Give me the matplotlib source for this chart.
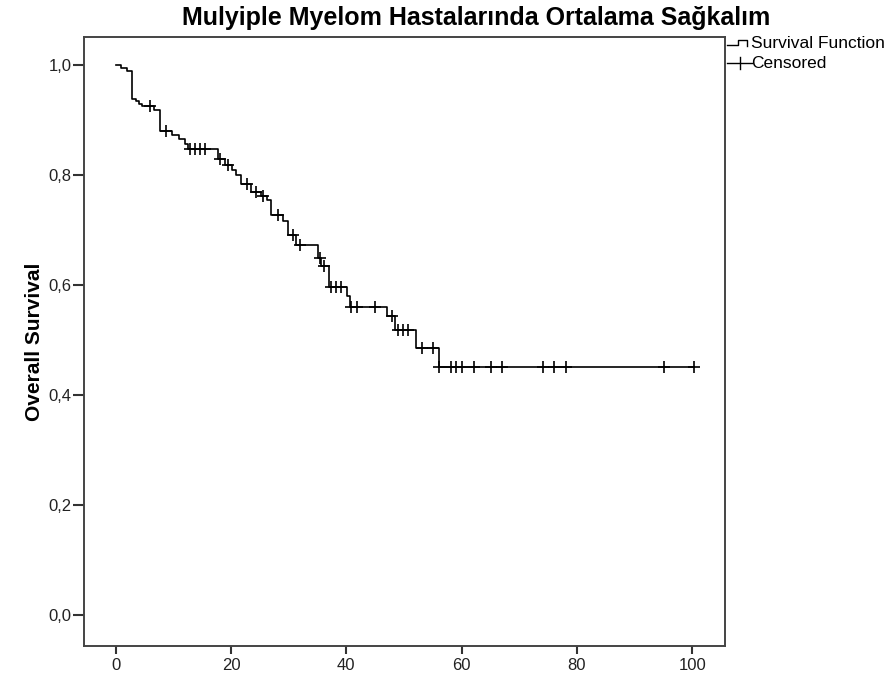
import numpy as np
import matplotlib
matplotlib.use("Agg")
import matplotlib.pyplot as plt
from matplotlib.lines import Line2D

# ---- data ----
event_times = [0.0, 1.0, 1.9, 2.9, 3.6, 4.05, 4.6, 6.65, 7.65, 9.7, 11.0, 12.0, 12.55,
               17.8, 18.9, 20.1, 20.95, 21.8, 23.55, 25.2, 26.2, 27.0, 29.0, 29.9,
               31.25, 35.1, 35.7, 37.0, 40.05, 40.6, 47.0, 48.4, 52.1, 56.1]
survival = [1.0, 0.994, 0.988, 0.937, 0.933, 0.929, 0.925, 0.918, 0.880, 0.871, 0.865,
            0.856, 0.847, 0.829, 0.818, 0.808, 0.799, 0.782, 0.769, 0.761, 0.754,
            0.727, 0.715, 0.690, 0.672, 0.648, 0.633, 0.596, 0.580, 0.560, 0.542,
            0.518, 0.484, 0.451]
censor_times = [5.9, 8.8, 12.85, 13.7, 14.6, 15.45, 18.05, 19.5, 22.7, 24.4, 25.5,
                28.2, 30.7, 31.9, 35.4, 36.1, 37.3, 38.2, 39.0, 40.9, 41.8, 45.0,
                47.85, 49.0, 49.9, 50.7, 53.1, 55.1, 56.1, 58.1, 59.1, 60.1, 62.2,
                65.1, 67.1, 74.2, 76.1, 78.1, 95.2, 100.3]
end_time = 100.3
xticks = [0, 20, 40, 60, 80, 100]
yticks = [0.0, 0.2, 0.4, 0.6, 0.8, 1.0]
title = "Mulyiple Myelom Hastalarında Ortalama Sağkalım"
ylabel = "Overall Survival"

plt.rcParams['font.family'] = ['Liberation Sans', 'DejaVu Sans']

W, H = 892, 679
fig = plt.figure(figsize=(W / 100, H / 100), dpi=100)
ax = fig.add_axes([84 / W, 1 - 646 / H, (725 - 84) / W, (646 - 37) / H])

# step curve
xs = list(event_times) + [end_time]
ys = list(survival) + [survival[-1]]
ax.step(xs, ys, where='post', color='black', lw=1.2)

# censor marks at the survival level
et = np.array(event_times)
sv = np.array(survival)
ct = np.array(censor_times)
idx = np.searchsorted(et, ct, side='right') - 1
ax.plot(ct, sv[idx], linestyle='none', marker='+', color='black',
        markersize=9, markeredgewidth=1.2)

ax.set_xlim(-5.5, 105.7)
ax.set_ylim(-0.057, 1.05)
ax.set_xticks(xticks)
ax.set_xticklabels([str(v) for v in xticks])
ax.set_yticks(yticks)
ax.set_yticklabels([f"{v:.1f}".replace('.', ',') for v in yticks])
ax.tick_params(axis='x', direction='out', length=6, width=1.5, colors='#333333',
               labelsize=12, labelcolor='#222222', pad=3)
ax.tick_params(axis='y', direction='out', length=8, width=1.5, colors='#333333',
               labelsize=12, labelcolor='#222222', pad=1)
for s in ax.spines.values():
    s.set_linewidth(1.4)
    s.set_color('#444444')

ax.set_ylabel(ylabel, fontsize=15, fontweight='bold')
ax.yaxis.set_label_coords(-0.062, 0.5)

fig.text(476 / W, 1 - 18 / H, title, ha='center', va='center',
         fontsize=18, fontweight='bold')

# legend (drawn manually in pixel coords)
def px(x, y):
    return x / W, 1 - y / H

lx = [727, 738, 738, 747, 747]
ly = [45, 45, 40, 40, 46]
fig.add_artist(Line2D([px(a, b)[0] for a, b in zip(lx, ly)],
                      [px(a, b)[1] for a, b in zip(lx, ly)],
                      color='black', lw=1.0, transform=fig.transFigure))
fig.add_artist(Line2D([px(727, 0)[0], px(752, 0)[0]], [px(0, 63)[1]] * 2,
                      color='black', lw=1.0, transform=fig.transFigure))
fig.add_artist(Line2D([px(740, 0)[0]] * 2, [px(0, 57)[1], px(0, 69)[1]],
                      color='black', lw=1.0, transform=fig.transFigure))
fig.text(751 / W, 1 - 44 / H, "Survival Function", ha='left', va='center', fontsize=12.5)
fig.text(751 / W, 1 - 64 / H, "Censored", ha='left', va='center', fontsize=12.5)

fig.savefig("out.png", dpi=100)
